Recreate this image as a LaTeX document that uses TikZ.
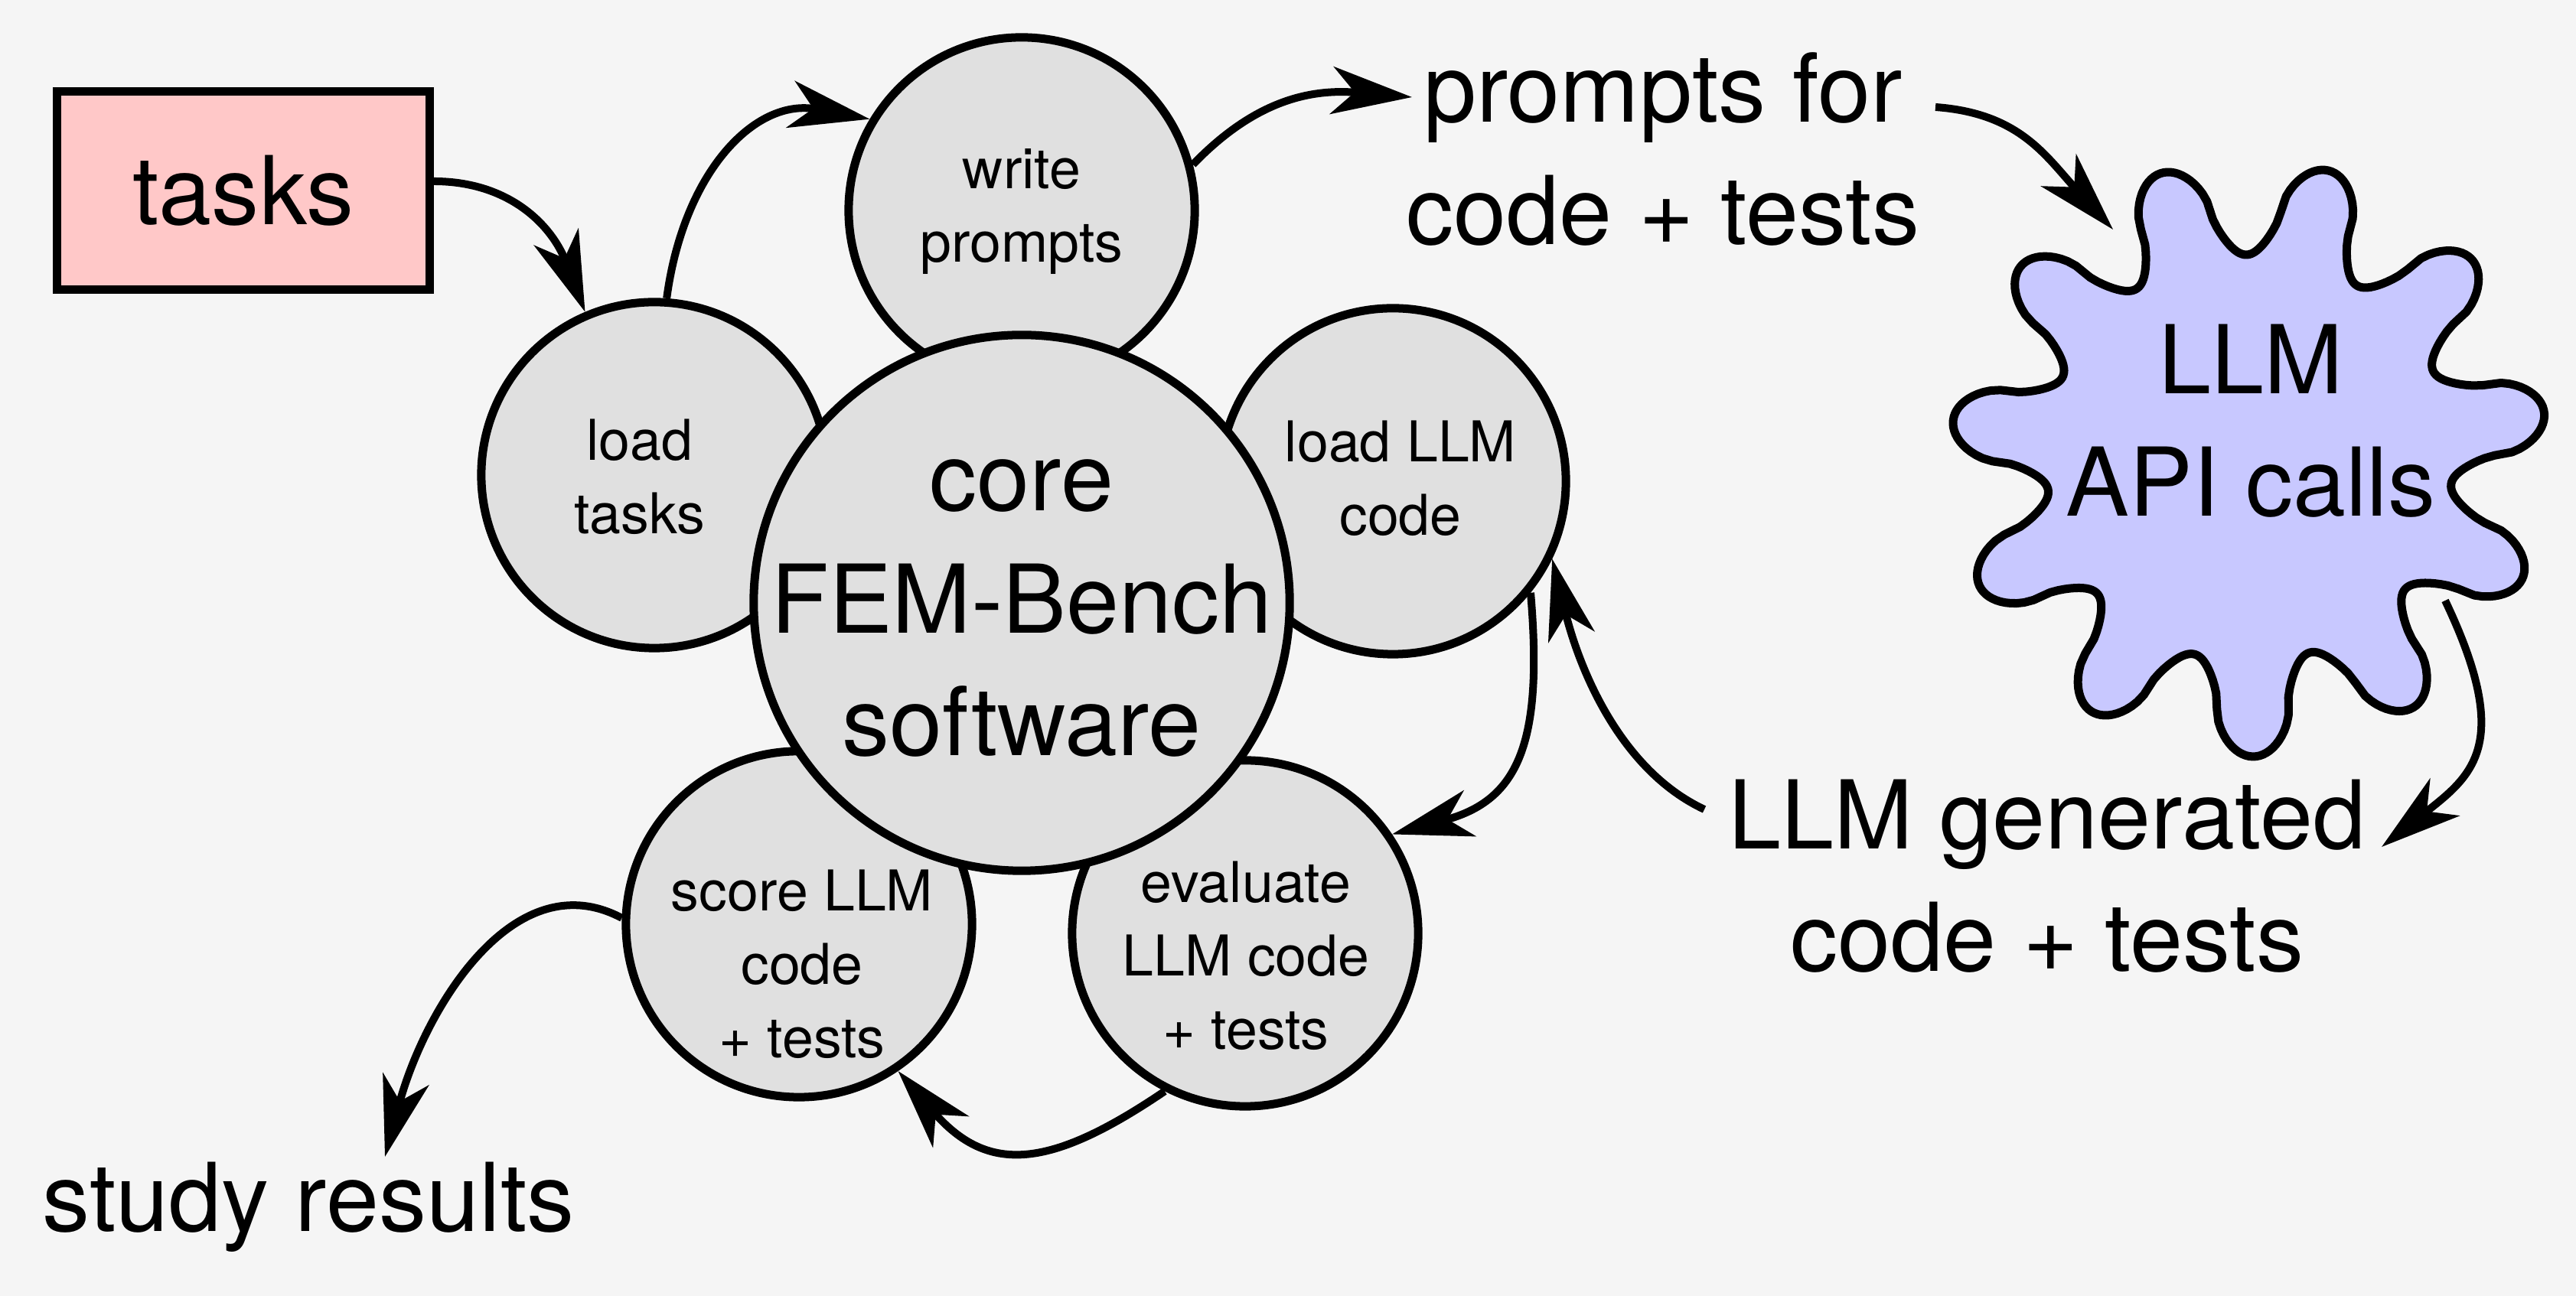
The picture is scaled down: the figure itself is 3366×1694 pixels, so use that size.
\documentclass[tikz,border=0pt]{standalone}
\usepackage{fontspec}
\setmainfont{TeX Gyre Heros}
\usetikzlibrary{arrows.meta}
\definecolor{bg}{HTML}{F5F5F5}
\definecolor{circfill}{HTML}{E0E0E0}
\definecolor{taskfill}{HTML}{FFC8C8}
\definecolor{llmfill}{HTML}{C8C8FF}
\begin{document}
\begin{tikzpicture}[x=0.01cm, y=0.01cm,
  bigtext/.style={font=\fontsize{35.3}{45.5}\selectfont, align=center, inner sep=0pt, anchor=base},
  smalltext/.style={font=\fontsize{20.9}{27.3}\selectfont, align=center, inner sep=0pt, anchor=base},
  stage/.style={circle, draw=black, fill=circfill, line width=0.11cm, minimum size=4.52cm, inner sep=0pt},
  flow/.style={line width=0.1cm, -{Stealth[length=1.05cm, width=0.62cm, inset=0.3cm]}},
]
\useasboundingbox (0,0) rectangle (3366,1694);
\fill[bg] (0,0) rectangle (3366,1694);

% task box
\node[draw=black, line width=0.11cm, fill=taskfill, minimum width=4.86cm, minimum height=2.58cm,
      inner sep=0pt, font=\fontsize{35.3}{45.5}\selectfont] (tasks) at (318,1445) {tasks};

% stage circles
\node[stage] (wp)  at (1335,1419) {};
\node[stage] (lt)  at (855,1073) {};
\node[stage] (llc) at (1820,1065) {};
\node[stage] (sc)  at (1044,486) {};
\node[stage] (ev)  at (1627,474) {};
\node[stage, minimum size=7cm] (core) at (1335,906) {};

% circle texts (base = baseline of the last line)
\node[smalltext] (wpt)  at (1335,1351) {write\\prompts};
\node[smalltext] (ltt)  at (836,996)   {load\\tasks};
\node[smalltext] (llct) at (1830,994)  {load LLM\\code};
\node[smalltext] (sct)  at (1048,311)  {score LLM\\code\\+ tests};
\node[smalltext] (evt)  at (1628,322)  {evaluate\\LLM code\\+ tests};
\node[bigtext]   (coret) at (1335,706) {core\\FEM-Bench\\software};

% LLM blob
\coordinate (llm) at (2939,1095);
\draw[line width=0.11cm, fill=llmfill, line join=round]
  plot[domain=0:360, samples=541, variable=\t]
  ({2939+(328+62*sign(cos(11*(\t-9)))*pow(abs(cos(11*(\t-9)))+0.0001,0.6))*cos(\t)},
   {1095+(328+62*sign(cos(11*(\t-9)))*pow(abs(cos(11*(\t-9)))+0.0001,0.6))*sin(\t)}) -- cycle;
\node[bigtext] (llmt) at (2941,1019) {LLM\\API calls};

% free labels
\node[bigtext] (pf)    at (2173,1374) {prompts for\\code + tests};
\node[bigtext] (gen)   at (2675,424)  {LLM generated\\code + tests};
\node[bigtext] (study) at (403,84)    {study results};

% connector end points at the free labels
\coordinate (pfin)    at ([shift={(-328,193)}]pf.base);
\coordinate (pfout)   at ([shift={(356,180)}]pf.base);
\coordinate (llmin)   at ([shift={(-178,299)}]llm);
\coordinate (llmout)  at ([shift={(256,-186)}]llm);
\coordinate (genin)   at ([shift={(437,163)}]gen.base);
\coordinate (genout)  at ([shift={(-448,212)}]gen.base);
\coordinate (studyin) at ([shift={(100,98)}]study.base);

% connectors
\draw[flow] ([yshift=0.12cm]tasks.east) .. controls +(100,0) and +(-43,112) .. (lt.113);
\draw[flow] (lt.86) .. controls +(22,165) and +(-150,28) .. (wp.149);
\draw[flow] (wp.15) .. controls +(83,86) and +(-130,11) .. (pfin);
\draw[flow] (pfout) .. controls +(110,-8) and +(-88,96) .. (llmin);
\draw[flow] (llmout) .. controls +(90,-189) and +(118,93) .. (genin);
\draw[flow] (genout) .. controls +(-109,51) and +(36,-146) .. (llc.-26);
\draw[flow] (llc.-39) .. controls +(17,-199) and +(164,44) .. (ev.34);
\draw[flow] (ev.-117) .. controls +(-149,-101) and +(118,-136) .. (sc.-56);
\draw[flow] (sc.178) .. controls +(-141,75) and +(52,193) .. (studyin);
\end{tikzpicture}
\end{document}
